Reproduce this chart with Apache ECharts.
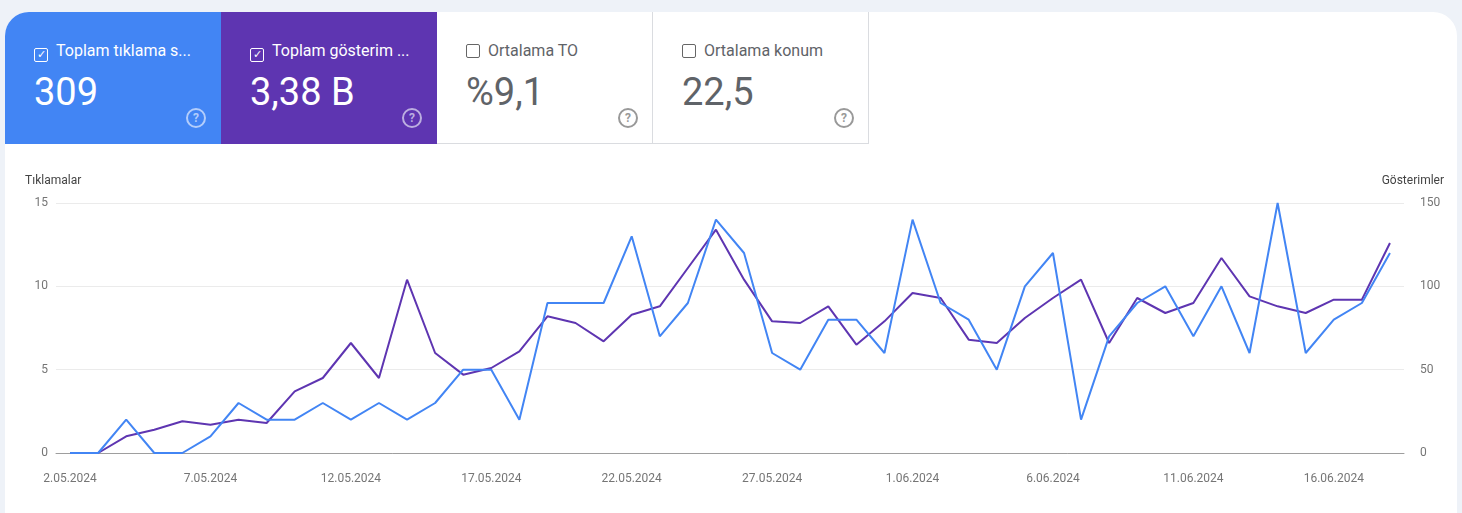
<html>
<head>
    <meta http-equiv="content-type" content="text/html; charset=utf-8">
    <title>Search Console</title>
    <script src="https://cdn.jsdelivr.net/npm/echarts@6/dist/echarts.min.js"></script>
    <style>
        body { margin:0; background:#eef2f8; font-family:Roboto, "Noto Sans", sans-serif; }
        .panel { position:absolute; left:5px; top:12px; width:1452px; height:520px; background:#fff; border-radius:24px 24px 0 0; overflow:hidden; }
        .card { position:absolute; top:0; width:216px; height:132px; box-sizing:border-box; }
        .card .t { position:absolute; left:29px; top:29px; font-size:16px; white-space:nowrap; }
        .card .v { position:absolute; left:29px; top:58px; font-size:38px; }
        .card .q { position:absolute; left:181px; top:96px; width:16px; height:16px; border:2px solid; border-radius:50%; font-size:12px; text-align:center; line-height:16px; font-weight:bold; }
        .box { display:inline-block; width:12px; height:12px; border:1.5px solid; border-radius:2px; vertical-align:-2px; margin-right:8px; font-size:11px; line-height:12px; text-align:center; }
        #echart { position:absolute; left:0; top:0; width:1462px; height:513px; }
    </style>
</head>
<body>
    <div class="panel">
        <div class="card" style="left:0;background:#4285f4;color:#fff;">
            <div class="t"><span class="box">&#10003;</span>Toplam tıklama s...</div>
            <div class="v">309</div><div class="q" style="color:#b3cdfb;">?</div>
        </div>
        <div class="card" style="left:216px;background:#5e35b1;color:#fff;">
            <div class="t"><span class="box">&#10003;</span>Toplam gösterim ...</div>
            <div class="v">3,38 B</div><div class="q" style="color:#bcaee0;">?</div>
        </div>
        <div class="card" style="left:432px;color:#5f6368;border-right:1px solid #dadce0;border-bottom:1px solid #dadce0;">
            <div class="t"><span class="box" style="color:#666;"></span>Ortalama TO</div>
            <div class="v">%9,1</div><div class="q" style="color:#999;">?</div>
        </div>
        <div class="card" style="left:648px;color:#5f6368;border-right:1px solid #dadce0;border-bottom:1px solid #dadce0;">
            <div class="t"><span class="box" style="color:#666;"></span>Ortalama konum</div>
            <div class="v">22,5</div><div class="q" style="color:#999;">?</div>
        </div>
    </div>
    <div id="echart"></div>
    <script type="text/javascript">
        var dates = [];
        var startDay = new Date(2024, 4, 2);
        for (var i = 0; i < 48; i++) {
            var d = new Date(startDay.getTime() + i * 86400000);
            dates.push(d.getDate() + '.' + ('0' + (d.getMonth() + 1)).slice(-2) + '.' + d.getFullYear());
        }
        var clicks = [0,0,2,0,0,1,3,2,2,3,2,3,2,3,5,5,2,9,9,9,13,7,9,14,12,6,5,8,8,6,14,9,8,5,10,12,2,7,9,10,7,10,6,15,6,8,9,12];
        var impressions = [0,0,10,14,19,17,20,18,37,45,66,45,104,60,47,51,61,82,78,67,83,88,111,134,104,79,78,88,65,79,96,93,68,66,81,93,104,66,93,84,90,117,94,88,84,92,92,126];

        var chart = echarts.init(document.getElementById('echart'));
        var labelColor = '#757575';
        chart.setOption({
            animation: false,
            grid: { left: 56, right: 58, top: 203, bottom: 60 },
            xAxis: {
                type: 'category', data: dates, boundaryGap: true,
                axisTick: { show: false },
                axisLine: { lineStyle: { color: '#9e9e9e' } },
                axisLabel: { interval: 4, color: labelColor, fontSize: 12, margin: 20, fontFamily: 'Roboto' }
            },
            yAxis: [
                {
                    type: 'value', min: 0, max: 15, interval: 5,
                    name: 'Tıklamalar', nameLocation: 'end', nameGap: 16,
                    nameTextStyle: { color: '#444', fontSize: 12, align: 'left', padding: [0, 0, 0, -31], fontFamily: 'Roboto' },
                    axisLabel: { color: labelColor, fontSize: 12, margin: 8, fontFamily: 'Roboto' },
                    splitLine: { lineStyle: { color: '#ebebeb' } }
                },
                {
                    type: 'value', min: 0, max: 150, interval: 50,
                    name: 'Gösterimler', nameLocation: 'end', nameGap: 16,
                    nameTextStyle: { color: '#444', fontSize: 12, align: 'right', padding: [0, -40, 0, 0], fontFamily: 'Roboto' },
                    axisLabel: { color: labelColor, fontSize: 12, margin: 16, fontFamily: 'Roboto' },
                    splitLine: { show: false }
                }
            ],
            series: [
                {
                    type: 'line', data: clicks, yAxisIndex: 0, symbol: 'none',
                    lineStyle: { color: '#4285f4', width: 2 }, z: 3
                },
                {
                    type: 'line', data: impressions, yAxisIndex: 1, symbol: 'none',
                    lineStyle: { color: '#5e35b1', width: 2 }, z: 2
                }
            ]
        });
    </script>
</body>
</html>
